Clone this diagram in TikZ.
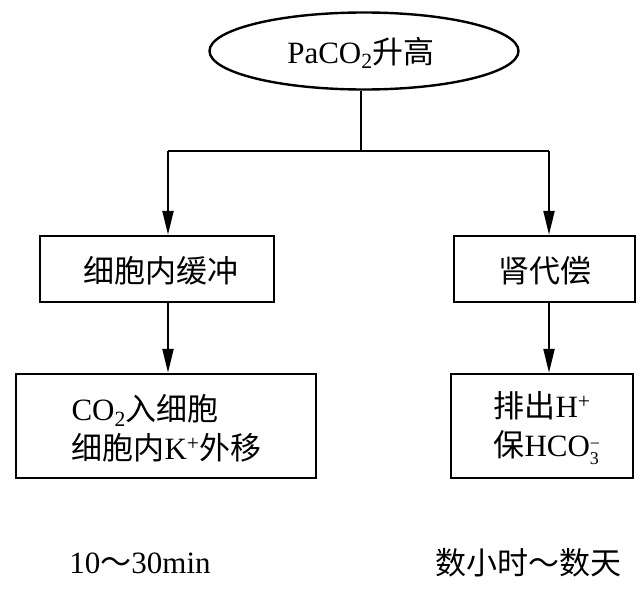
\documentclass[tikz,border=0pt]{standalone}
\usepackage{fontspec}
\setmainfont{Liberation Serif}
\newfontfamily\cjk{Noto Sans CJK SC}
\usetikzlibrary{arrows.meta,shapes.geometric}
\newcommand{\subsupstack}[2]{\raisebox{-0.55ex}{\fontsize{18}{15}\selectfont\shortstack[l]{#2\\#1}}}
\tikzset{
  box/.style={draw,line width=2.4pt,rectangle,inner sep=0pt},
  oval/.style={draw,line width=2.4pt,ellipse,inner sep=0pt},
  arr/.style={line width=2.2pt,-{Triangle[length=24pt,width=11pt]}},
  ln/.style={line width=2.2pt},
  txt/.style={font=\fontsize{31}{39}\selectfont,align=left}
}
\begin{document}
\begin{tikzpicture}[x=1pt,y=-1pt]
\useasboundingbox (0,0) rectangle (642,591);
\node[oval,minimum width=309pt,minimum height=77pt] (top) at (364,51) {};
\node[txt] (toptxt) at (361,53) {PaCO\textsubscript{2}{\cjk 升高}};
\node[box,minimum width=234pt,minimum height=66pt] (b1) at (157,269) {};
\node[txt] (b1t) at (161,271) {\cjk 细胞内缓冲};
\node[box,minimum width=181pt,minimum height=66pt] (b2) at (544.5,269) {};
\node[txt] (b2t) at (545,271) {\cjk 肾代偿};
\node[box,minimum width=300pt,minimum height=104pt] (b3) at (166,426) {};
\node[txt,anchor=west] (b3t) at (68,428) {CO\textsubscript{2}{\cjk 入细胞}\\{\cjk 细胞内}K\textsuperscript{+}{\cjk 外移}};
\node[box,minimum width=182pt,minimum height=104pt] (b4) at (542,426) {};
\node[txt,anchor=west] (b4t) at (490,428) {{\cjk 排出}H\textsuperscript{+}\\{\cjk 保}HCO\subsupstack{3}{−}};
\node[txt] (t1) at (140,563) {10{\cjk ～}30min};
\node[txt] (t2) at (528,563) {\cjk 数小时～数天};
\coordinate (jm) at (361,151);
\coordinate (jl) at (168,151);
\coordinate (jr) at (549,151);
\draw[ln] (jm |- top.south) -- (jm);
\draw[ln] (jl) -- (jr);
\draw[arr] (jl) -- (jl |- b1.north);
\draw[arr] (jr) -- (jr |- b2.north);
\draw[arr] (jl |- b1.south) -- (jl |- b3.north);
\draw[arr] (jr |- b2.south) -- (jr |- b4.north);
\end{tikzpicture}
\end{document}
